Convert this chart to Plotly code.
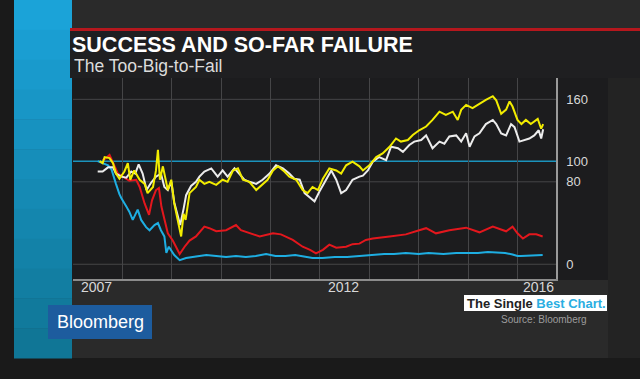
import plotly.graph_objects as go

W, H = 640, 379

# ---------------- data (decimal year, index value) ----------------
cyan_x = [2007.50, 2007.60, 2007.71, 2007.78, 2007.81, 2007.87, 2007.94, 2007.98, 2008.08, 2008.14,
          2008.21, 2008.31, 2008.38, 2008.48, 2008.55, 2008.65, 2008.72, 2008.78, 2008.85, 2008.89,
          2008.94, 2009.00, 2009.05, 2009.16, 2009.29, 2009.49, 2009.70, 2009.90, 2010.10, 2010.30,
          2010.50, 2010.70, 2010.91, 2011.10, 2011.30, 2011.50, 2011.70, 2011.85, 2012.05, 2012.30,
          2012.55, 2012.80, 2013.07, 2013.30, 2013.50, 2013.74, 2014.00, 2014.20, 2014.50, 2014.76,
          2015.00, 2015.20, 2015.40, 2015.57, 2015.75, 2015.90, 2016.00, 2016.07, 2016.25, 2016.40,
          2016.51]
cyan_y = [100, 98, 96, 92, 88, 78, 68, 64, 56, 51,
          43, 53, 43, 36, 33, 38, 40, 33, 27, 11,
          17, 13, 9, 4, 6, 7.5, 9, 8, 7, 8,
          7, 8, 10, 8, 8, 9, 7, 6, 6, 7,
          7, 8, 9.5, 10, 10, 11, 10, 11, 10, 11,
          11, 11, 12, 11.6, 11, 9.5, 8, 8, 8.5, 8.5,
          9]

red_x = [2007.60, 2007.67, 2007.74, 2007.81, 2007.91, 2008.01, 2008.14, 2008.28, 2008.35, 2008.45,
         2008.54, 2008.60, 2008.68, 2008.74, 2008.79, 2008.85, 2008.92, 2009.02, 2009.09, 2009.16,
         2009.26, 2009.36, 2009.49, 2009.59, 2009.66, 2009.76, 2009.90, 2010.10, 2010.30, 2010.40,
         2010.57, 2010.78, 2011.05, 2011.21, 2011.45, 2011.65, 2011.80, 2011.92, 2012.06, 2012.19,
         2012.33, 2012.53, 2012.66, 2012.80, 2012.93, 2013.07, 2013.41, 2013.74, 2014.01, 2014.15,
         2014.35, 2014.62, 2014.96, 2015.23, 2015.50, 2015.77, 2015.90, 2016.00, 2016.11, 2016.24,
         2016.38, 2016.51]
red_y = [101, 103, 106, 98, 88, 85, 81, 82, 75, 59,
         48, 62, 72, 74, 56, 44, 30, 23, 17, 10,
         17, 23, 27, 33, 36.5, 35, 32, 33, 38, 33,
         30, 27, 30, 29, 23.6, 17, 14, 10.6, 14, 19,
         16, 17, 19.5, 20, 23.6, 25, 27, 29, 33, 35,
         30, 33, 35.5, 31, 36.5, 32, 36.5, 30, 25, 29,
         29, 27]

white_x = [2007.50, 2007.60, 2007.71, 2007.81, 2007.87, 2007.98, 2008.08, 2008.18, 2008.26, 2008.33,
           2008.41, 2008.49, 2008.58, 2008.68, 2008.78, 2008.85, 2008.92, 2008.99, 2009.05, 2009.12,
           2009.17, 2009.24, 2009.29, 2009.39, 2009.49, 2009.56, 2009.66, 2009.80, 2009.93, 2010.03,
           2010.13, 2010.27, 2010.37, 2010.47, 2010.57, 2010.71, 2010.84, 2010.98, 2011.11, 2011.25,
           2011.38, 2011.48, 2011.59, 2011.69, 2011.79, 2011.89, 2011.99, 2012.12, 2012.23, 2012.33,
           2012.43, 2012.53, 2012.66, 2012.80, 2012.87, 2012.97, 2013.07, 2013.20, 2013.34, 2013.44,
           2013.58, 2013.68, 2013.81, 2013.91, 2014.05, 2014.15, 2014.28, 2014.42, 2014.52, 2014.62,
           2014.76, 2014.86, 2014.96, 2015.03, 2015.13, 2015.23, 2015.36, 2015.50, 2015.57, 2015.67,
           2015.77, 2015.87, 2015.94, 2016.04, 2016.14, 2016.24, 2016.34, 2016.43, 2016.48, 2016.52]
white_y = [90, 90, 94, 94, 88, 85, 84, 90, 88, 97,
           88, 72, 79, 85, 88, 75, 72, 80, 60, 46,
           38, 54, 67, 76, 80, 85, 90, 93, 85, 91,
           85, 93, 88, 82, 80, 78, 82, 88, 96, 93,
           88, 83, 82, 69, 65, 61, 70.5, 82, 91, 82,
           69, 72, 82, 85, 86, 91, 99.5, 104, 101, 114,
           112.5, 109, 115.7, 119, 120.5, 125, 112.5, 119, 117, 124,
           125, 119, 127, 114, 124, 127, 136, 140, 136, 127,
           125, 136, 133, 119, 120.5, 122, 125, 130, 122, 131]

yellow_x = [2007.54, 2007.60, 2007.64, 2007.74, 2007.81, 2007.87, 2007.94, 2008.04, 2008.11, 2008.16,
            2008.24, 2008.35, 2008.45, 2008.51, 2008.62, 2008.68, 2008.72, 2008.76, 2008.82, 2008.87,
            2008.92, 2008.99, 2009.05, 2009.12, 2009.19, 2009.24, 2009.28, 2009.36, 2009.43, 2009.49,
            2009.56, 2009.66, 2009.76, 2009.90, 2010.03, 2010.13, 2010.24, 2010.34, 2010.44, 2010.57,
            2010.71, 2010.84, 2010.94, 2011.05, 2011.15, 2011.28, 2011.38, 2011.52, 2011.65, 2011.75,
            2011.85, 2011.96, 2012.06, 2012.19, 2012.33, 2012.43, 2012.53, 2012.66, 2012.80, 2012.87,
            2013.00, 2013.14, 2013.27, 2013.41, 2013.54, 2013.64, 2013.78, 2013.88, 2014.01, 2014.15,
            2014.28, 2014.42, 2014.55, 2014.69, 2014.79, 2014.86, 2014.96, 2015.09, 2015.23, 2015.36,
            2015.50, 2015.57, 2015.67, 2015.77, 2015.84, 2015.90, 2016.00, 2016.08, 2016.17, 2016.27,
            2016.41, 2016.48, 2016.52]
yellow_y = [100, 98, 104, 103, 98, 88, 83, 90, 98, 82,
            91, 82, 78, 69, 75, 91, 111, 82, 95, 82,
            72, 82, 59, 43, 27, 49, 43, 69, 72, 75,
            82, 78, 80, 77, 82, 80, 91, 93, 82, 80,
            72, 78, 82, 91, 95, 90, 85, 82, 72, 69,
            75, 72, 83, 93, 91, 88, 96, 99.6, 95, 91,
            96, 104, 107.5, 114, 122, 119, 120.5, 125.4, 130, 133.6,
            140, 148, 145, 148, 140, 149.8, 154.6, 151.4, 156, 159.4,
            163, 159, 146, 150, 158, 153, 140, 136, 140, 136,
            141, 131.5, 136]

y_tick_vals = [0, 80, 100, 160]
y_grid_vals = [0, 80, 160]
x_tick_vals = [2007.48, 2012.48, 2016.42]
x_tick_text = ["2007", "2012", "2016"]
year_grid = [2008, 2009, 2010, 2011, 2012, 2013, 2014, 2015, 2016]
baseline = 100

# ---------------- figure ----------------
def px(X):
    return X / W

def py(Y):
    return 1 - Y / H

FONT = "Liberation Sans"

fig = go.Figure()
series = [
    ("Series D", cyan_x, cyan_y, "#1eaee2"),
    ("Series C", red_x, red_y, "#e3171d"),
    ("Series B", white_x, white_y, "#ececec"),
    ("Series A", yellow_x, yellow_y, "#f2ec00"),
]
for name, xs, ys, col in series:
    fig.add_trace(go.Scatter(x=xs, y=ys, mode="lines", name=name,
                             line=dict(color=col, width=2), showlegend=False))

shapes = []

def rect(x0, y0, x1, y1, color):
    shapes.append(dict(type="rect", xref="paper", yref="paper",
                       x0=px(x0), x1=px(x1), y0=py(y1), y1=py(y0),
                       fillcolor=color, line=dict(width=0), layer="below"))

# background panels
rect(14, 0, 640, 358, "#2a2a2a")
rect(608, 78, 640, 358, "#232323")
# blue stripe with vertical gradient
n = 12
top = (27, 163, 216)
bot = (16, 118, 150)
for i in range(n):
    t = i / (n - 1)
    c = tuple(int(top[k] + (bot[k] - top[k]) * t) for k in range(3))
    rect(14, 358 * i / n, 72, 358 * (i + 1) / n + 0.5, "rgb(%d,%d,%d)" % c)
# red rule + title box
rect(70, 28, 640, 31, "#b5171d")
rect(70, 31, 640, 78, "#1f1f21")
# plot panel
rect(72, 78, 608, 280, "#1c1c1e")
# logos
rect(48, 305, 152, 339, "#1d5c9e")
rect(464, 295, 607, 311, "#ffffff")
# horizontal grid lines and 100 reference line (subplot shapes, under traces)
for v in y_grid_vals:
    shapes.append(dict(type="line", xref="x domain", yref="y", x0=0, x1=1, y0=v, y1=v,
                       line=dict(color="#454547", width=1), layer="below"))
shapes.append(dict(type="line", xref="x domain", yref="y", x0=0, x1=1,
                   y0=baseline, y1=baseline,
                   line=dict(color="#1b93bd", width=1.5), layer="below"))

annotations = [
    dict(text="<b>SUCCESS AND SO-FAR FAILURE</b>", x=px(70), y=py(45), xanchor="left",
         yanchor="middle", font=dict(family=FONT, size=21.5, color="#ffffff"),
         xref="paper", yref="paper"),
    dict(text="The Too-Big-to-Fail", x=px(72), y=py(66), xanchor="left",
         yanchor="middle", font=dict(family=FONT, size=17.5, color="#dcdcdc"),
         xref="paper", yref="paper"),
    dict(text="Bloomberg", x=px(100), y=py(322), xanchor="center",
         yanchor="middle", font=dict(family=FONT, size=18, color="#ffffff"),
         xref="paper", yref="paper"),
    dict(text="<b>The Single <span style='color:#2aaee2'>Best Chart.</span></b>",
         x=px(536), y=py(303), xanchor="center", yanchor="middle",
         font=dict(family=FONT, size=13, color="#222222"),
         xref="paper", yref="paper"),
    dict(text="Source: Bloomberg", x=px(544), y=py(319), xanchor="center",
         yanchor="middle", font=dict(family=FONT, size=10, color="#9c9c9c"),
         xref="paper", yref="paper"),
]
# x-axis year labels (placed at mid-year under the axis)
for xv, txt in zip(x_tick_vals, x_tick_text):
    annotations.append(dict(text=txt, x=xv, y=py(287), xref="x", yref="paper",
                            xanchor="center", yanchor="middle",
                            font=dict(family=FONT, size=14, color="#d8d8d8")))
for a in annotations:
    a.update(showarrow=False)

fig.update_layout(
    width=W, height=H, autosize=False,
    margin=dict(l=0, r=0, t=0, b=0),
    paper_bgcolor="#1a1a1a",
    plot_bgcolor="rgba(0,0,0,0)",
    shapes=shapes,
    annotations=annotations,
    showlegend=False,
    xaxis=dict(
        domain=[73 / W, 556 / W], range=[2007.0, 2016.78],
        showticklabels=False, tickmode="array", tickvals=year_grid,
        showgrid=True, gridcolor="#454547", gridwidth=1,
        zeroline=False, ticks="",
        showline=True, linecolor="#8c8c8c", linewidth=1.5,
        fixedrange=True,
    ),
    yaxis=dict(
        domain=[1 - 279 / H, 1 - 78 / H], range=[-14.3, 180.7],
        side="right", tickmode="array", tickvals=y_tick_vals,
        showgrid=False, zeroline=False, ticks="",
        showline=True, linecolor="#9a9a9a", linewidth=1.5,
        tickfont=dict(family=FONT, size=13, color="#d8d8d8"),
        ticklabelstandoff=6,
        fixedrange=True,
    ),
)

fig.write_html(
    "out.html",
    config={"displayModeBar": False},
    post_script="document.body.style.margin='0px';document.body.style.background='#1a1a1a';",
)
